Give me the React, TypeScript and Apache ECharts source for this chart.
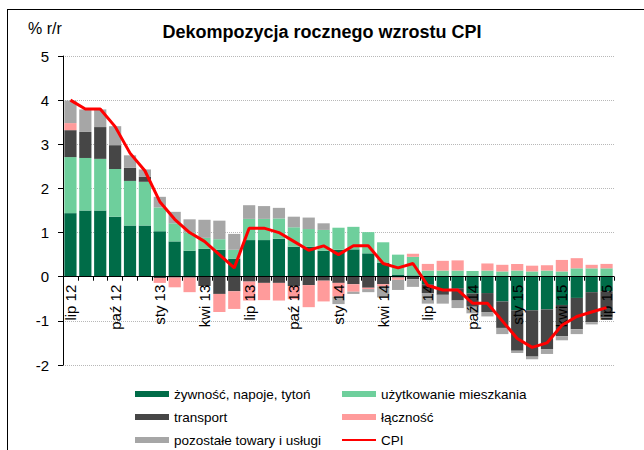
import React, { useEffect, useRef } from "react";
import * as echarts from "echarts";

const months = ["lip","sie","wrz","paź","lis","gru","sty","lut","mar","kwi","maj","cze"];
const categories: string[] = [];
{
  let y = 12;
  for (let i = 0; i < 37; i++) {
    const m = months[i % 12];
    if (m === "sty" && i > 0) y++;
    categories.push(m + " " + y);
  }
}

const food = [1.44,1.50,1.50,1.36,1.16,1.16,1.03,0.80,0.59,0.63,0.61,0.41,0.83,0.83,0.86,0.68,0.68,0.59,0.61,0.62,0.53,0.32,0.05,0.03,-0.17,-0.28,-0.26,-0.38,-0.37,-0.56,-0.76,-0.76,-0.74,-0.64,-0.48,-0.35,-0.33];
const housing = [1.27,1.19,1.17,1.08,1.01,0.99,0.54,0.41,0.41,0.25,0.24,0.20,0.48,0.48,0.46,0.44,0.40,0.47,0.50,0.51,0.48,0.46,0.45,0.42,0.14,0.14,0.14,0.13,0.14,0.12,0.14,0.12,0.14,0.12,0.19,0.19,0.19];
const transport = [0.61,0.59,0.72,0.54,0.30,0.11,-0.03,-0.02,-0.02,-0.21,-0.39,-0.33,-0.11,-0.14,-0.14,-0.21,-0.19,-0.09,-0.14,-0.17,-0.25,-0.17,-0.02,-0.06,-0.20,-0.13,-0.28,-0.30,-0.43,-0.60,-0.92,-1.05,-0.90,-0.71,-0.71,-0.68,-0.60];
const comm = [0.16,0,0,0,0,0,-0.11,-0.22,-0.33,0,-0.41,-0.40,-0.43,-0.39,-0.40,-0.30,-0.50,-0.47,-0.31,-0.17,-0.03,-0.05,-0.05,0.07,0.15,0.22,0.23,0,0.16,0.15,0.15,0.13,0.12,0.26,0.23,0.08,0.10];
const other = [0.51,0.51,0.40,0.43,0.28,0.17,0.24,0.26,0.30,0.41,0.42,0.36,0.31,0.29,0.24,0.24,0.26,0.15,-0.17,-0.05,-0.07,-0.25,-0.23,-0.17,-0.24,-0.20,-0.17,-0.15,-0.10,-0.14,-0.05,-0.06,-0.11,-0.09,-0.11,-0.05,-0.05];
const cpi = [4.0,3.8,3.8,3.4,2.8,2.4,1.7,1.3,1.0,0.8,0.5,0.2,1.1,1.1,1.0,0.8,0.6,0.7,0.5,0.7,0.7,0.3,0.2,0.3,-0.2,-0.3,-0.3,-0.6,-0.6,-1.0,-1.4,-1.6,-1.5,-1.1,-0.9,-0.8,-0.7];

const yMin = -2;
const yMax = 5;

const names = {
  food: "żywność, napoje, tytoń",
  housing: "użytkowanie mieszkania",
  transport: "transport",
  comm: "łączność",
  other: "pozostałe towary i usługi",
  cpi: "CPI",
};
const colors = {
  food: "#006c48",
  housing: "#6ecf9c",
  transport: "#464646",
  comm: "#ff9b9b",
  other: "#a6a6a6",
  cpi: "#ff0000",
};

const FONT = "'Liberation Sans', Arial, sans-serif";
const GRID_TOP = 56;
const GRID_BOTTOM = 85;
const H = 450;

export default function App() {
  const ref = useRef<HTMLDivElement>(null);
  useEffect(() => {
    if (!ref.current) return;
    const chart = echarts.init(ref.current, undefined, { renderer: "svg" });
    const bar = (key: keyof typeof names, data: number[]) => ({
      name: names[key],
      type: "bar",
      stack: "a",
      data,
      barCategoryGap: "18%",
      itemStyle: { color: (colors as any)[key] },
    });
    const legendText = { fontFamily: FONT, fontSize: 13.5, color: "#000" };
    const leg = (name: string, left: number, top: number, h = 6) => ({
      left, top, orient: "horizontal", itemWidth: 34, itemHeight: h,
      data: [name], textStyle: legendText, icon: "rect",
    });
    const plotH = H - GRID_TOP - GRID_BOTTOM;
    const zeroOffset = -plotH * (0 - yMin) / (yMax - yMin);
    chart.setOption({
      animation: false,
      textStyle: { fontFamily: FONT },
      title: {
        text: "Dekompozycja rocznego wzrostu CPI",
        left: "center",
        top: 18,
        textStyle: { fontFamily: FONT, fontSize: 18, fontWeight: "bold", color: "#000" },
      },
      graphic: [
        { type: "text", left: 28, top: 20, style: { text: "% r/r", font: "16px " + FONT, fill: "#000" } },
        { type: "line", shape: { x1: 7, y1: 9.5, x2: 644, y2: 9.5 }, style: { stroke: "#000", lineWidth: 1 } },
        { type: "line", shape: { x1: 7.5, y1: 9, x2: 7.5, y2: 450 }, style: { stroke: "#000", lineWidth: 1 } },
      ],
      grid: { left: 63, right: 30, top: GRID_TOP, bottom: GRID_BOTTOM, containLabel: false },
      legend: [
        leg(names.food, 130, 382),
        leg(names.transport, 130, 405),
        leg(names.other, 130, 428),
        leg(names.housing, 337, 382),
        leg(names.comm, 337, 405),
        leg(names.cpi, 337, 428, 2),
      ],
      xAxis: {
        type: "category",
        data: categories,
        offset: zeroOffset,
        axisLine: { onZero: false, lineStyle: { color: "#000", width: 1 } },
        axisTick: { show: true, interval: 0, length: 4, lineStyle: { color: "#000" } },
        axisLabel: { interval: 2, rotate: 90, margin: 8, fontSize: 15, color: "#000", fontFamily: FONT },
        z: 4,
      },
      yAxis: {
        type: "value",
        min: yMin,
        max: yMax,
        interval: 1,
        axisLine: { show: true, lineStyle: { color: "#000", width: 1 } },
        axisTick: { show: true, length: 5, lineStyle: { color: "#000" } },
        axisLabel: { fontSize: 15, color: "#000", margin: 14, fontFamily: FONT },
        splitLine: { show: true, lineStyle: { color: "#b8b8b8", type: "dotted", width: 1 } },
      },
      series: [
        bar("food", food),
        bar("housing", housing),
        bar("transport", transport),
        bar("comm", comm),
        bar("other", other),
        {
          name: names.cpi,
          type: "line",
          data: cpi,
          symbol: "none",
          z: 5,
          lineStyle: { color: colors.cpi, width: 3 },
          itemStyle: { color: colors.cpi },
        },
      ],
    });
    return () => chart.dispose();
  }, []);
  return (
    <div
      ref={ref}
      style={{ position: "fixed", left: 0, top: 0, width: 644, height: 450, background: "#fff" }}
    />
  );
}
